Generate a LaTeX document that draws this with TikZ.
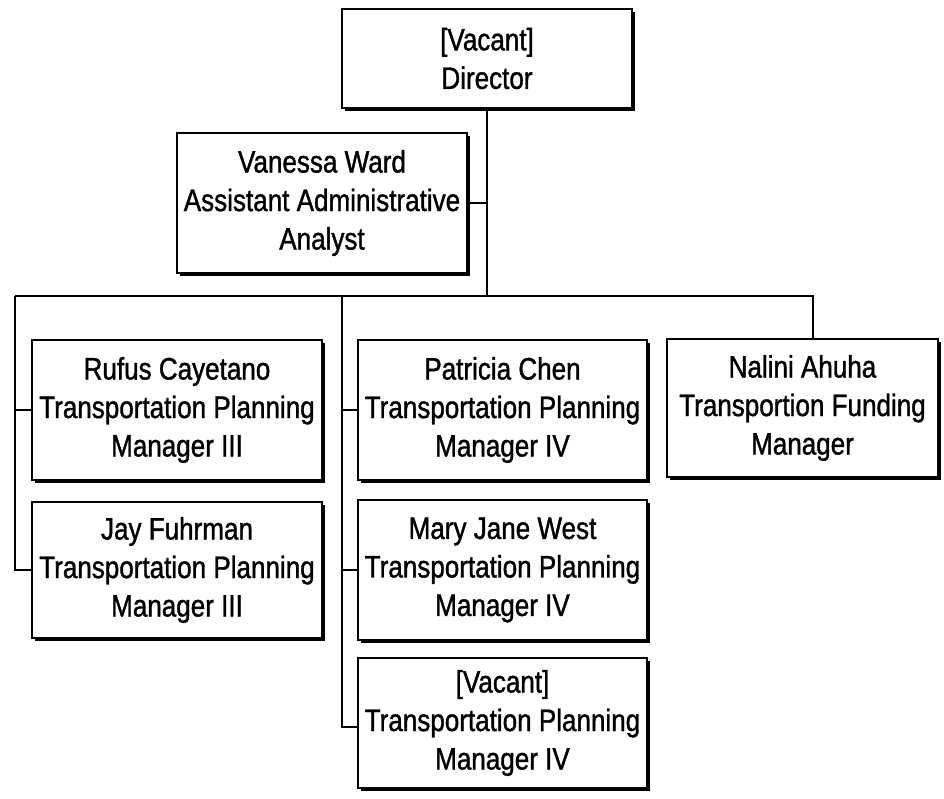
\documentclass[tikz,border=0pt]{standalone}
\usepackage{fontspec}
\setmainfont[FakeStretch=0.84,FakeBold=1.2]{Liberation Sans}
\usetikzlibrary{shadows}
\begin{document}
\begin{tikzpicture}[x=1pt,y=-1pt,
  box/.style={draw, line width=1.6pt, fill=white, align=center, inner sep=0pt,
    font=\fontsize{31}{38.5}\selectfont,
    drop shadow={opacity=1, fill=black, shadow xshift=2.5pt, shadow yshift=-2.5pt}},
  conn/.style={line width=1.6pt}]
\useasboundingbox (0,0) rectangle (944,798);
\node[box, minimum width=290pt, minimum height=99pt] (dir) at (487,58.5) {[Vacant]\\Director};
\node[box, minimum width=290pt, minimum height=140pt] (van) at (322,203) {Vanessa Ward\\Assistant Administrative\\Analyst};
\node[box, minimum width=290pt, minimum height=140pt] (rufus) at (177,410) {Rufus Cayetano\\Transportation Planning\\Manager III};
\node[box, minimum width=290pt, minimum height=136pt] (jay) at (177,570) {Jay Fuhrman\\Transportation Planning\\Manager III};
\node[box, minimum width=289pt, minimum height=140pt] (pat) at (502.5,410) {Patricia Chen\\Transportation Planning\\Manager IV};
\node[box, minimum width=289pt, minimum height=140pt] (mary) at (502.5,570) {Mary Jane West\\Transportation Planning\\Manager IV};
\node[box, minimum width=289pt, minimum height=130pt] (vac) at (502.5,723) {[Vacant]\\Transportation Planning\\Manager IV};
\node[box, minimum width=271pt, minimum height=138pt] (nal) at (802.5,408) {Nalini Ahuha\\Transportion Funding\\Manager};
\coordinate (busL) at (15,296);
\coordinate (busR) at (813,296);
\coordinate (c2) at (342,296);
\coordinate (busM) at (487,296);
\draw[conn] (dir.south) -- (busM);
\draw[conn] (van.east) -- (van.east -| dir.south);
\draw[conn] (busL) -- (busR) -- (busR |- nal.north);
\draw[conn] (busL) |- (rufus.west);
\draw[conn] (busL) |- (jay.west);
\draw[conn] (c2) |- (pat.west);
\draw[conn] (c2) |- (mary.west);
\draw[conn] (c2) |- ([yshift=-4pt]vac.west);
\end{tikzpicture}
\end{document}
